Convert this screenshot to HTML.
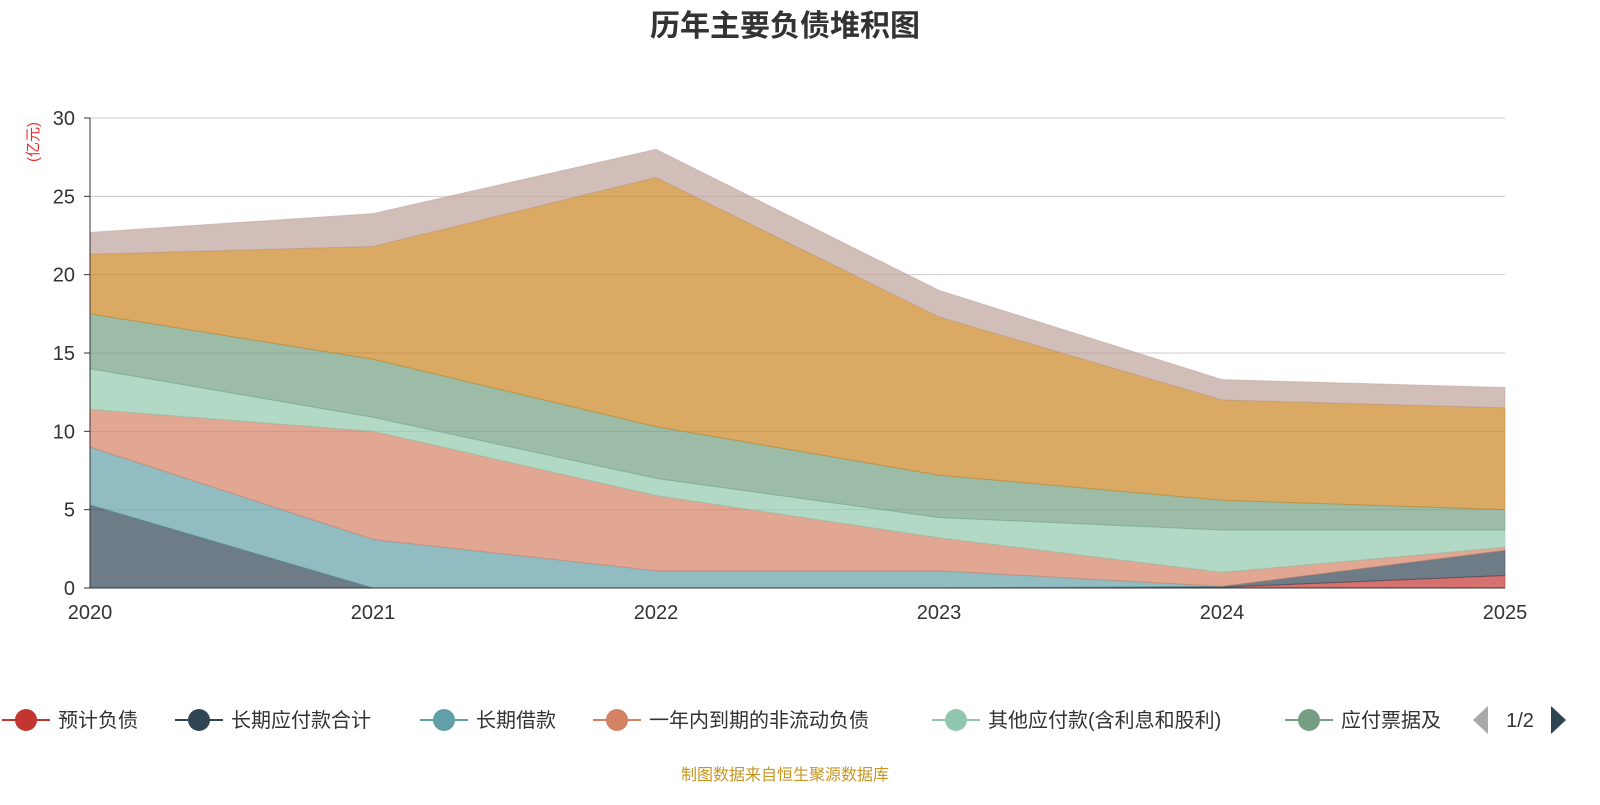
<!DOCTYPE html>
<html><head><meta charset="utf-8"><style>
body{margin:0;width:1600px;height:800px;background:#fff;overflow:hidden;font-family:"Liberation Sans","Noto Sans CJK SC",sans-serif}
</style></head><body>
<svg id="c" width="1600" height="800" xmlns="http://www.w3.org/2000/svg">
<text x="785" y="36" text-anchor="middle" font-size="30" font-weight="bold" fill="#333">历年主要负债堆积图</text>
<text transform="translate(38,142) rotate(-90)" text-anchor="middle" font-size="15" fill="#e03030">(亿元)</text>
<g id="grid"></g><g id="areas"></g><g id="axes"></g><g id="legend"></g>
<text x="785" y="780" text-anchor="middle" font-size="16" fill="#c8961e">制图数据来自恒生聚源数据库</text>
</svg>
<script>
const years=["2020","2021","2022","2023","2024","2025"];
const yTicks=[0,5,10,15,20,25,30];
const names=["预计负债","长期应付款合计","长期借款","一年内到期的非流动负债","其他应付款(含利息和股利)","应付票据及应付账款","应付账款","其他"];
const colors=["#c23531","#2f4554","#61a0a8","#d48265","#91c7ae","#749f83","#ca8622","#bda29a"];
const s0=[0,0,0,0,0.05,0.8];
const s1=[5.3,0,0,0,0.05,1.6];
const s2=[3.7,3.1,1.1,1.1,0,0];
const s3=[2.4,6.9,4.8,2.1,0.9,0.2];
const s4=[2.6,0.9,1.1,1.3,2.7,1.1];
const s5=[3.5,3.7,3.3,2.7,1.9,1.3];
const s6=[3.8,7.2,15.9,10.1,6.4,6.5];
const s7=[1.4,2.1,1.8,1.7,1.3,1.3];
const series=[s0,s1,s2,s3,s4,s5,s6,s7];
const NS="http://www.w3.org/2000/svg";
const X=i=>90+i*(1505-90)/(years.length-1);
const Y=v=>588-v*(470/30);
function mk(t,a,p){const e=document.createElementNS(NS,t);for(const k in a)e.setAttribute(k,a[k]);p.appendChild(e);return e;}
const grid=document.getElementById('grid'),axes=document.getElementById('axes'),areas=document.getElementById('areas'),leg=document.getElementById('legend');
yTicks.forEach(v=>{
 if(v>0){const l=mk('line',{x1:90,x2:1505,y1:Y(v),y2:Y(v),stroke:'#ccc'},grid);
 
 }
 const t=mk('text',{x:75,y:Y(v)+7,'text-anchor':'end','font-size':20,fill:'#333'},axes);t.textContent=v;
 
 
});
let base=years.map(()=>0);
series.forEach((s,k)=>{
 const top=base.map((b,i)=>b+s[i]);
 let d='M'+top.map((v,i)=>X(i)+','+Y(v)).join('L');
 for(let i=years.length-1;i>=0;i--)d+='L'+X(i)+','+Y(base[i]);
 const p=mk('path',{d:d+'Z',fill:colors[k],'fill-opacity':0.7,stroke:colors[k],'stroke-opacity':0.5,'stroke-width':1},areas);
 
 
 base=top;
});
const ax=mk('line',{x1:90,x2:90,y1:118,y2:588,stroke:'#333'},axes);


const bx=mk('line',{x1:90,x2:1505,y1:588,y2:588,stroke:'#333'},axes);


[118,196,275,353,431,510].forEach(()=>{});
yTicks.forEach(v=>{const t=mk('line',{x1:84,x2:90,y1:Y(v),y2:Y(v),stroke:'#333'},axes);
 
 });
years.forEach((y,i)=>{
 const t=mk('text',{x:X(i),y:619,'text-anchor':'middle','font-size':20,fill:'#333'},axes);t.textContent=y;
 
 
});
const lx=[2,175,420,593,932,1285];
lx.forEach((x,k)=>{
 const g=mk('g',{},leg);
 
 
 mk('line',{x1:x,x2:x+48,y1:720,y2:720,stroke:colors[k],'stroke-width':2},g);
 mk('circle',{cx:x+24,cy:720,r:11,fill:colors[k]},g);
 const t=mk('text',{x:x+56,y:727,'font-size':20,fill:'#333'},g);
 t.textContent=k==5?"应付票据及":names[k];
});
const pa=mk('polygon',{points:'1488,706 1488,734 1473,720',fill:'#aaa'},leg);


const pt=mk('text',{x:1520,y:727,'text-anchor':'middle','font-size':20,fill:'#333'},leg);pt.textContent='1/2';


const pn=mk('polygon',{points:'1551,706 1551,734 1566,720',fill:'#2f4554'},leg);


</script>
</body></html>
